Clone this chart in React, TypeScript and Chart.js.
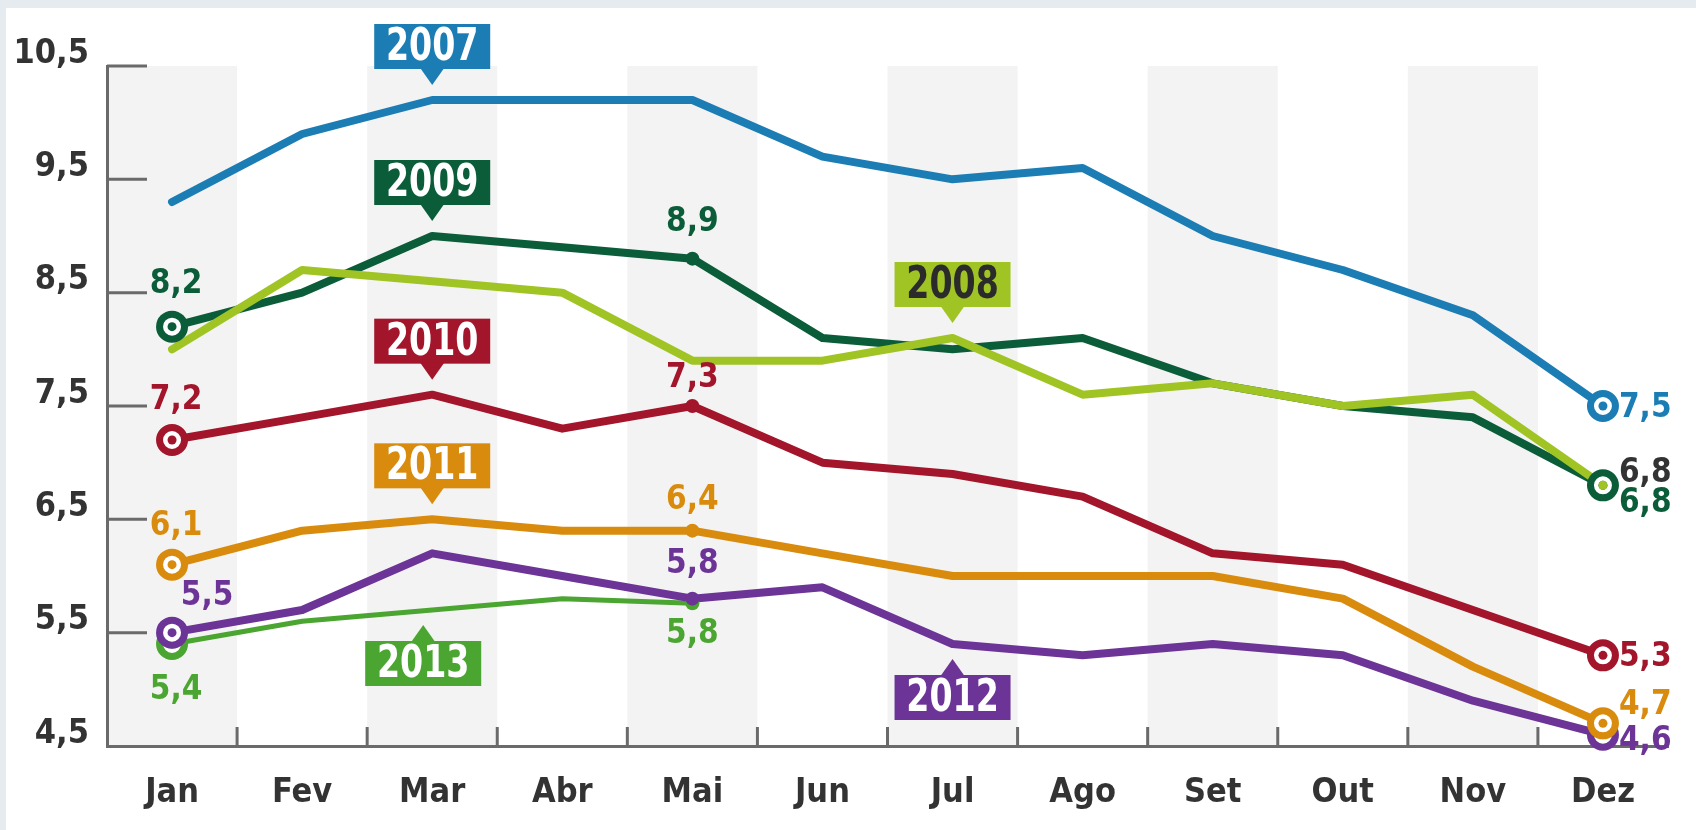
import React, { useEffect, useRef } from 'react';
import { Chart, registerables } from 'chart.js';

Chart.register(...registerables);

// ---------- data ----------
const MONTHS = ['Jan', 'Fev', 'Mar', 'Abr', 'Mai', 'Jun', 'Jul', 'Ago', 'Set', 'Out', 'Nov', 'Dez'];
const Y_TICKS = [4.5, 5.5, 6.5, 7.5, 8.5, 9.5, 10.5];
const YEARS = ['2007', '2008', '2009', '2010', '2011', '2012', '2013'];

const V2007 = [9.3, 9.9, 10.2, 10.2, 10.2, 9.7, 9.5, 9.6, 9.0, 8.7, 8.3, 7.5];
const V2008 = [8.0, 8.7, 8.6, 8.5, 7.9, 7.9, 8.1, 7.6, 7.7, 7.5, 7.6, 6.8];
const V2009 = [8.2, 8.5, 9.0, 8.9, 8.8, 8.1, 8.0, 8.1, 7.7, 7.5, 7.4, 6.8];
const V2010 = [7.2, 7.4, 7.6, 7.3, 7.5, 7.0, 6.9, 6.7, 6.2, 6.1, 5.7, 5.3];
const V2011 = [6.1, 6.4, 6.5, 6.4, 6.4, 6.2, 6.0, 6.0, 6.0, 5.8, 5.2, 4.7];
const V2012 = [5.5, 5.7, 6.2, 6.0, 5.8, 5.9, 5.4, 5.3, 5.4, 5.3, 4.9, 4.6];
const V2013 = [5.4, 5.6, 5.7, 5.8, 5.76, null, null, null, null, null, null, null];

const SERIES = [V2007, V2008, V2009, V2010, V2011, V2012, V2013];

// series name tags: year, month where the tag points
const TAG_YEARS = ['2007', '2009', '2010', '2011', '2008', '2013', '2012'];
const TAG_MONTHS = ['Mar', 'Mar', 'Mar', 'Mar', 'Jul', 'Mar', 'Jul'];

// value annotations
const NOTE_YEARS = ['2009', '2010', '2011', '2012', '2013', '2009', '2010', '2011', '2012', '2013', '2007', '2008', '2009', '2010', '2011', '2012'];
const NOTE_MONTHS = ['Jan', 'Jan', 'Jan', 'Jan', 'Jan', 'Mai', 'Mai', 'Mai', 'Mai', 'Mai', 'Dez', 'Dez', 'Dez', 'Dez', 'Dez', 'Dez'];
const NOTE_TEXTS = ['8,2', '7,2', '6,1', '5,5', '5,4', '8,9', '7,3', '6,4', '5,8', '5,8', '7,5', '6,8', '6,8', '5,3', '4,7', '4,6'];

// ---------- styles ----------
const COLORS: Record<string, string> = {
  '2007': '#1b7db4',
  '2008': '#a0c424',
  '2009': '#0b5d3a',
  '2010': '#a3152b',
  '2011': '#d98b0d',
  '2012': '#6c3496',
  '2013': '#4ba531',
};
const LINE_WIDTHS = [8, 8, 8, 8, 8, 8, 5];
const AXIS = '#6a6a6a';
const TEXT = '#333333';
const BAND = '#f3f3f3';
const FRAME = '#e6ebef';
const FONT = "'DejaVu Sans Condensed', 'DejaVu Sans', 'Liberation Sans', sans-serif";

// placement of tags (above / below the point)
const TAG_SIDES = ['up', 'up', 'up', 'up', 'up', 'down', 'down'];
const TAG_DX = [0, 0, 0, 0, 0, -9, 0];
const TAG_TEXT_COLORS = ['#fff', '#fff', '#fff', '#fff', '#2b2b2b', '#fff', '#fff'];

// placement of value notes relative to their point
const NOTE_PLACE = [
  { dx: 4, dy: -42, align: 'center' },
  { dx: 4, dy: -40, align: 'center' },
  { dx: 4, dy: -38, align: 'center' },
  { dx: 35, dy: -36, align: 'center' },
  { dx: 4, dy: 46, align: 'center' },
  { dx: 0, dy: -36, align: 'center' },
  { dx: 0, dy: -28, align: 'center' },
  { dx: 0, dy: -30, align: 'center' },
  { dx: 0, dy: -34, align: 'center' },
  { dx: 0, dy: 31, align: 'center' },
  { dx: 16, dy: 2, align: 'left' },
  { dx: 16, dy: -12, align: 'left' },
  { dx: 16, dy: 18, align: 'left' },
  { dx: 16, dy: 2, align: 'left' },
  { dx: 16, dy: -18, align: 'left' },
  { dx: 16, dy: 7, align: 'left' },
];
const NOTE_COLORS = [
  COLORS['2009'], COLORS['2010'], COLORS['2011'], COLORS['2012'], COLORS['2013'],
  COLORS['2009'], COLORS['2010'], COLORS['2011'], COLORS['2012'], COLORS['2013'],
  COLORS['2007'], '#333333', COLORS['2009'], COLORS['2010'], COLORS['2011'], COLORS['2012'],
];

// markers, drawn in this order
const MARKERS: { year: string; month: string; kind: 'ring' | 'dot' | 'pip' }[] = [
  { year: '2013', month: 'Jan', kind: 'ring' },
  { year: '2012', month: 'Jan', kind: 'ring' },
  { year: '2011', month: 'Jan', kind: 'ring' },
  { year: '2010', month: 'Jan', kind: 'ring' },
  { year: '2009', month: 'Jan', kind: 'ring' },
  { year: '2013', month: 'Mai', kind: 'dot' },
  { year: '2012', month: 'Mai', kind: 'dot' },
  { year: '2011', month: 'Mai', kind: 'dot' },
  { year: '2010', month: 'Mai', kind: 'dot' },
  { year: '2009', month: 'Mai', kind: 'dot' },
  { year: '2012', month: 'Dez', kind: 'ring' },
  { year: '2011', month: 'Dez', kind: 'ring' },
  { year: '2010', month: 'Dez', kind: 'ring' },
  { year: '2009', month: 'Dez', kind: 'ring' },
  { year: '2008', month: 'Dez', kind: 'pip' },
  { year: '2007', month: 'Dez', kind: 'ring' },
];

function pointOf(chart: any, year: string, month: string) {
  const si = YEARS.indexOf(year);
  const mi = MONTHS.indexOf(month);
  const x = chart.scales.x.getPixelForValue(mi);
  const y = chart.scales.y.getPixelForValue(SERIES[si][mi] as number);
  return { x, y };
}

const decor = {
  id: 'decor',
  beforeDraw(chart: any) {
    const { ctx, chartArea: a, scales } = chart;
    const x = scales.x;
    ctx.save();
    ctx.fillStyle = FRAME;
    ctx.fillRect(0, 0, chart.width, chart.height);
    ctx.fillStyle = '#ffffff';
    ctx.fillRect(6, 8, chart.width - 6, chart.height - 8);
    const step = x.getPixelForValue(1) - x.getPixelForValue(0);
    ctx.fillStyle = BAND;
    MONTHS.forEach((_, i) => {
      if (i % 2 === 0) {
        const cx = x.getPixelForValue(i);
        ctx.fillRect(cx - step / 2, a.top, step, a.bottom - a.top);
      }
    });
    ctx.restore();
  },
  beforeDatasetsDraw(chart: any) {
    const { ctx, chartArea: a, scales } = chart;
    const { x, y } = scales;
    ctx.save();
    ctx.strokeStyle = AXIS;
    ctx.lineWidth = 3;
    ctx.lineCap = 'butt';
    Y_TICKS.forEach((v) => {
      if (v === Y_TICKS[0]) return;
      const py = y.getPixelForValue(v);
      ctx.beginPath();
      ctx.moveTo(a.left, py);
      ctx.lineTo(a.left + 40, py);
      ctx.stroke();
    });
    for (let i = 1; i < MONTHS.length; i++) {
      const px = (x.getPixelForValue(i - 1) + x.getPixelForValue(i)) / 2;
      ctx.beginPath();
      ctx.moveTo(px, a.bottom);
      ctx.lineTo(px, a.bottom - 19);
      ctx.stroke();
    }
    ctx.restore();
  },
  afterDatasetsDraw(chart: any) {
    const { ctx } = chart;
    ctx.save();
    // markers
    MARKERS.forEach((m) => {
      const p = pointOf(chart, m.year, m.month);
      const c = COLORS[m.year];
      if (m.kind === 'ring') {
        ctx.beginPath();
        ctx.arc(p.x, p.y, 12.5, 0, Math.PI * 2);
        ctx.fillStyle = '#ffffff';
        ctx.fill();
        ctx.lineWidth = 7;
        ctx.strokeStyle = c;
        ctx.stroke();
        ctx.beginPath();
        ctx.arc(p.x, p.y, 4.5, 0, Math.PI * 2);
        ctx.fillStyle = c;
        ctx.fill();
      } else if (m.kind === 'dot') {
        ctx.beginPath();
        ctx.arc(p.x, p.y, 7, 0, Math.PI * 2);
        ctx.fillStyle = c;
        ctx.fill();
      } else {
        ctx.beginPath();
        ctx.arc(p.x, p.y, 4.5, 0, Math.PI * 2);
        ctx.fillStyle = c;
        ctx.fill();
      }
    });
    // value notes
    ctx.font = `bold 33px ${FONT}`;
    ctx.textBaseline = 'middle';
    NOTE_TEXTS.forEach((t, i) => {
      const p = pointOf(chart, NOTE_YEARS[i], NOTE_MONTHS[i]);
      const pl = NOTE_PLACE[i];
      ctx.textAlign = pl.align as CanvasTextAlign;
      ctx.fillStyle = NOTE_COLORS[i];
      ctx.fillText(t, p.x + pl.dx, p.y + pl.dy);
    });
    // series tags
    const W = 116;
    const H = 45;
    TAG_YEARS.forEach((yr, i) => {
      const p0 = pointOf(chart, yr, TAG_MONTHS[i]);
      const cx = p0.x + TAG_DX[i];
      const up = TAG_SIDES[i] === 'up';
      const tip = up ? p0.y - 15 : p0.y + 15;
      const edge = up ? p0.y - 31 : p0.y + 31;
      const top = up ? edge - H : edge;
      ctx.fillStyle = COLORS[yr];
      ctx.fillRect(cx - W / 2, top, W, H);
      ctx.beginPath();
      ctx.moveTo(cx - 12, up ? edge - 1 : edge + 1);
      ctx.lineTo(cx + 12, up ? edge - 1 : edge + 1);
      ctx.lineTo(cx, tip);
      ctx.closePath();
      ctx.fill();
      ctx.save();
      ctx.translate(cx, top + H / 2 + 2);
      ctx.scale(0.84, 1);
      ctx.fillStyle = TAG_TEXT_COLORS[i];
      ctx.font = `bold 44px ${FONT}`;
      ctx.textAlign = 'center';
      ctx.textBaseline = 'middle';
      ctx.fillText(yr, 0, 0);
      ctx.restore();
    });
    ctx.restore();
  },
};

export default function App() {
  const ref = useRef<HTMLCanvasElement | null>(null);
  useEffect(() => {
    document.body.style.margin = '0';
    const canvas = ref.current;
    if (!canvas) return;
    const chart = new Chart(canvas, {
      type: 'line',
      data: {
        labels: MONTHS,
        datasets: YEARS.map((yr, i) => ({
          label: yr,
          data: SERIES[i],
          borderColor: COLORS[yr],
          backgroundColor: COLORS[yr],
          borderWidth: LINE_WIDTHS[i],
          pointRadius: 0,
          pointHoverRadius: 0,
          fill: false,
          tension: 0,
          borderJoinStyle: 'round' as const,
          borderCapStyle: 'round' as const,
          spanGaps: false,
        })),
      },
      options: {
        responsive: false,
        animation: false,
        events: [],
        layout: { padding: { top: 66, right: 28, left: 0, bottom: 0 } },
        plugins: { legend: { display: false }, tooltip: { enabled: false } },
        scales: {
          x: {
            type: 'category',
            offset: true,
            grid: { display: false, drawTicks: false },
            border: { display: true, color: AXIS, width: 3 },
            ticks: {
              color: TEXT,
              font: { family: FONT, size: 34, weight: 'bold' },
              padding: 27,
              maxRotation: 0,
              autoSkip: false,
            },
            afterFit: (s: any) => {
              s.height = 84;
            },
          },
          y: {
            type: 'linear',
            min: 4.5,
            max: 10.5,
            grid: { display: false, drawTicks: false },
            border: { display: true, color: AXIS, width: 3 },
            afterBuildTicks: (s: any) => {
              s.ticks = Y_TICKS.map((v) => ({ value: v }));
            },
            ticks: {
              color: TEXT,
              font: { family: FONT, size: 34, weight: 'bold' },
              padding: 18,
              labelOffset: -12,
              callback: (v: any) => String(v).replace('.', ','),
            },
            afterFit: (s: any) => {
              s.width = 107;
            },
          },
        },
      },
      plugins: [decor],
    } as any);
    return () => chart.destroy();
  }, []);
  return (
    <div style={{ width: 1696, height: 830 }}>
      <canvas ref={ref} width={1696} height={830} style={{ display: 'block', width: 1696, height: 830 }} />
    </div>
  );
}
